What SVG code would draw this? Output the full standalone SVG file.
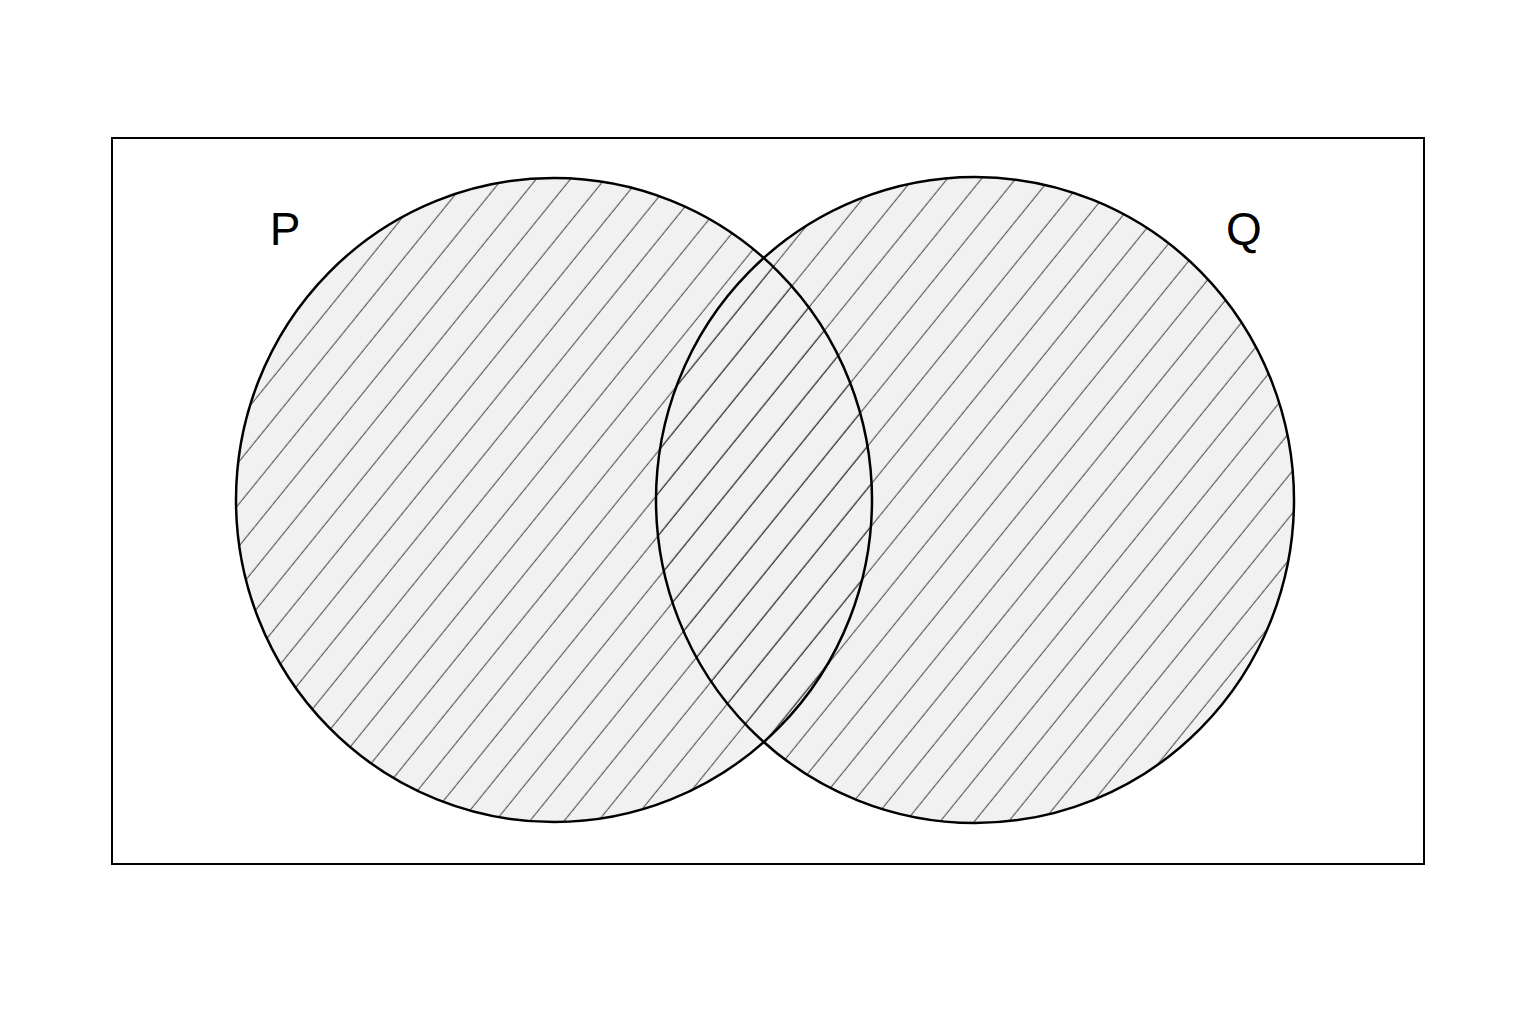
<svg xmlns="http://www.w3.org/2000/svg" width="1536" height="1024" viewBox="0 0 1536 1024">
  <style>
    .set { fill: #f1f1f1; stroke: none; }
    .hatch { fill: url(#hatch); stroke: none; }
    .outline { fill: none; stroke: #000; stroke-width: 2.5; }
    .label { font-family: "Liberation Sans", Arial, sans-serif; font-size: 46px; fill: #000; text-anchor: middle; }
  </style>
  <defs>
    <pattern id="hatch" patternUnits="userSpaceOnUse" width="26.6" height="20" patternTransform="rotate(39)">
      <line x1="24" y1="-1" x2="24" y2="21" stroke="#444" stroke-width="1"/>
    </pattern>
  </defs>
  <rect x="0" y="0" width="1536" height="1024" fill="#fff"/>
  <g id="universe">
    <rect x="112" y="138" width="1312" height="726" fill="none" stroke="#000" stroke-width="2"/>
  </g>
  <g id="fills">
    <ellipse class="set" cx="554" cy="500" rx="318" ry="322"/>
    <ellipse class="set" cx="975" cy="500" rx="319" ry="323"/>
    <ellipse class="hatch" cx="554" cy="500" rx="318" ry="322"/>
    <ellipse class="hatch" cx="975" cy="500" rx="319" ry="323"/>
  </g>
  <g id="set-P">
    <ellipse class="outline" cx="554" cy="500" rx="318" ry="322"/>
    <text class="label" x="285" y="245">P</text>
  </g>
  <g id="set-Q">
    <ellipse class="outline" cx="975" cy="500" rx="319" ry="323"/>
    <text class="label" x="1244" y="245">Q</text>
  </g>
  <g id="connectors"></g>
</svg>
